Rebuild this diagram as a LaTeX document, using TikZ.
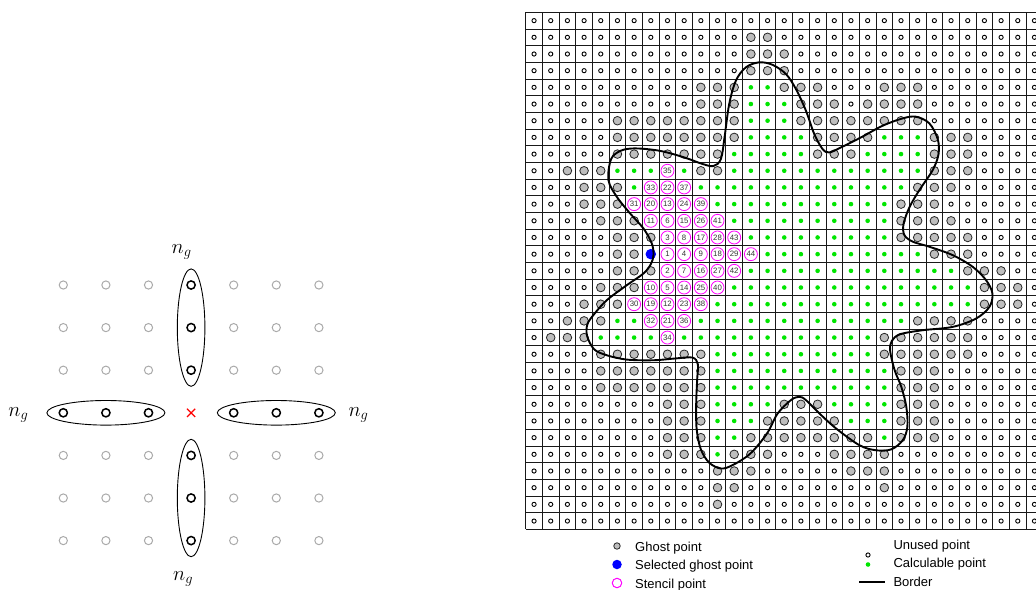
\documentclass[tikz,border=0pt]{standalone}
\usepackage{fontspec}
\setmainfont{Liberation Sans}
\usetikzlibrary{shapes.misc}
\definecolor{calcgreen}{RGB}{0,230,0}
\definecolor{ghostgray}{RGB}{190,190,190}
\definecolor{lgraycol}{RGB}{170,170,170}
\definecolor{stencilmag}{RGB}{255,0,255}
\definecolor{selblue}{RGB}{0,0,255}
\newcount\colno
\newcommand\drawpt[3]{%
  \if#1u\node[unusedpt] (p-#2-#3) at (#2,#3) {};\fi
  \if#1g\node[ghostpt] (p-#2-#3) at (#2,#3) {};\fi
  \if#1c\node[calcpt] (p-#2-#3) at (#2,#3) {};\fi
  \if#1b\node[selpt] (p-#2-#3) at (#2,#3) {};\fi
}
\tikzset{
  unusedpt/.style={circle, draw=black, line width=0.9pt, inner sep=0pt, minimum size=4.2pt},
  ghostpt/.style={circle, draw=black!85, fill=ghostgray, line width=0.8pt, inner sep=0pt, minimum size=8.6pt},
  calcpt/.style={circle, fill=calcgreen, inner sep=0pt, minimum size=4.6pt},
  selpt/.style={circle, fill=selblue, inner sep=0pt, minimum size=10.5pt},
  stencilpt/.style={circle, draw=stencilmag, line width=0.8pt, inner sep=0pt, minimum size=13pt, font=\fontsize{7.8}{8}\selectfont, text=black!80},
  gridline/.style={line width=0.9pt, draw=black!90},
  borderline/.style={line width=1.9pt, draw=black},
  lgraypt/.style={circle, draw=lgraycol, line width=1pt, inner sep=0pt, minimum size=8.2pt},
  lblackpt/.style={circle, draw=black, line width=1.5pt, inner sep=0pt, minimum size=8.2pt},
  grp/.style={line width=0.9pt, draw=black},
  nglabel/.style={anchor=base west, inner sep=0pt, font=\fontsize{20}{24}\selectfont},
  legtext/.style={anchor=base west, inner sep=0pt, font=\fontsize{13}{15}\selectfont},
}
\begin{document}
\begin{tikzpicture}[x=1pt, y=-1pt]
\useasboundingbox (0,0) rectangle (1036,589);
\clip (0,0) rectangle (1036,589);

% ---------------- left diagram ----------------
\foreach \a in {0,1,2,4,5,6} {
  \foreach \b in {0,1,2,4,5,6} {
    \node[lgraypt] (lg-\a-\b) at ({63.3+42.6*\a},{285+42.6*\b}) {};
  }
}
\foreach \b in {0,1,2,4,5,6} {
  \node[lblackpt] (lv-\b) at (191.1,{285+42.6*\b}) {};
}
\foreach \a in {0,1,2,4,5,6} {
  \node[lblackpt] (lh-\a) at ({63.3+42.6*\a},412.8) {};
}
\node[cross out, draw=red, line width=1.2pt, inner sep=0pt, minimum size=7pt] (ctr) at (191.1,412.8) {};
\draw[grp] (191.1,327.6) ellipse [x radius=13.8pt, y radius=58.7pt];
\draw[grp] (191.1,498.0) ellipse [x radius=13.8pt, y radius=58.7pt];
\draw[grp] (105.9,412.8) ellipse [x radius=59pt, y radius=12.3pt];
\draw[grp] (276.3,412.8) ellipse [x radius=59pt, y radius=12.3pt];
\node[nglabel] (ngt) at (171.5,253.3) {$n_g$};
\node[nglabel] (ngb) at (173.0,580.0) {$n_g$};
\node[nglabel] (ngl) at (8.3,416.7) {$n_g$};
\node[nglabel] (ngr) at (348.3,416.7) {$n_g$};

% ---------------- right grid ----------------
\begin{scope}[shift={(534.04,20.64)}, x=16.68pt, y=-16.68pt]
  \foreach \k in {0,...,31} {
    \draw[gridline] (\k-0.5,-0.5) -- (\k-0.5,30.5);
    \draw[gridline] (-0.5,\k-0.5) -- (31.5,\k-0.5);
  }
  \foreach \rowspec [count=\rr from 0] in {
    {u/31},
    {u/13,g/2,u/16},
    {u/13,g/3,u/15},
    {u/13,g/3,u/15},
    {u/10,g/3,c/2,g/3,u/3,g/3,u/7},
    {u/10,g/3,c/3,g/3,u/1,g/4,u/7},
    {u/5,g/8,c/3,g/8,u/7},
    {u/5,g/8,c/4,g/4,c/3,g/3,u/4},
    {u/5,g/7,c/5,g/3,c/4,g/3,u/4},
    {u/2,g/3,c/3,s/1,c/1,g/2,c/12,g/3,u/4},
    {u/3,g/3,c/1,s/3,c/13,g/3,u/5},
    {u/3,g/3,s/5,c/11,g/3,u/6},
    {u/4,g/3,s/5,c/10,g/4,u/5},
    {u/5,g/3,s/5,c/9,g/5,u/4},
    {u/5,g/2,b/1,s/6,c/10,g/3,u/4},
    {u/5,g/3,s/5,c/13,g/3,u/2},
    {u/4,g/3,s/5,c/15,g/3,u/1},
    {u/3,g/3,s/5,c/16,g/3,u/1},
    {u/2,g/3,c/2,s/3,c/13,g/4,u/4},
    {u/1,g/3,c/4,s/1,c/12,g/6,u/4},
    {u/4,g/7,c/10,g/6,u/4},
    {u/4,g/7,c/11,g/3,u/6},
    {u/4,g/7,c/11,g/3,u/6},
    {u/8,g/3,c/4,g/3,c/4,g/3,u/6},
    {u/8,g/3,c/3,g/5,c/3,g/3,u/6},
    {u/8,g/3,c/2,g/8,c/1,g/3,u/6},
    {u/8,g/3,c/1,g/3,u/3,g/4,u/9},
    {u/11,g/3,u/5,g/3,u/9},
    {u/11,g/2,u/8,g/1,u/9},
    {u/11,g/1,u/19},
    {u/31}} {
    \global\colno=0
    \foreach \t/\nn in \rowspec {
      \foreach \k in {1,...,\nn} {
        \edef\cc{\the\colno}%
        \drawpt{\t}{\cc}{\rr}%
        \global\advance\colno by 1
      }
    }
  }
  \foreach \c/\r/\n in {8/9/35,
    7/10/33, 8/10/22, 9/10/37,
    6/11/31, 7/11/20, 8/11/13, 9/11/24, 10/11/39,
    7/12/11, 8/12/6, 9/12/15, 10/12/26, 11/12/41,
    8/13/3, 9/13/8, 10/13/17, 11/13/28, 12/13/43,
    8/14/1, 9/14/4, 10/14/9, 11/14/18, 12/14/29, 13/14/44,
    8/15/2, 9/15/7, 10/15/16, 11/15/27, 12/15/42,
    7/16/10, 8/16/5, 9/16/14, 10/16/25, 11/16/40,
    6/17/30, 7/17/19, 8/17/12, 9/17/23, 10/17/38,
    7/18/32, 8/18/21, 9/18/36,
    8/19/34} {
    \node[stencilpt] (s-\n) at (\c,\r) {\n};
  }
  \draw[borderline] plot[smooth cycle, tension=0.55] coordinates {
    (4.46,9.56) (4.62,8.3) (5.2,7.8) (6.0,7.66) (7.2,7.75) (8.2,7.96) (9.3,8.3)
    (10.0,8.56) (10.74,8.72) (11.2,8.3) (11.42,7.0) (11.7,5.0) (12.1,3.6) (12.7,2.8)
    (13.5,2.5) (14.3,2.65) (15.1,3.2) (15.7,4.1) (16.3,5.4) (16.8,6.8) (17.3,7.7)
    (17.7,7.9) (18.4,7.6) (19.6,7.0) (20.9,6.3) (22.1,5.86) (22.9,5.76) (23.7,6.16)
    (24.2,7.1) (24.25,8.0) (23.9,8.96) (23.1,10.16) (22.5,11.2) (22.15,12.2) (22.2,12.85)
    (22.7,13.25) (23.72,13.56) (25.1,14.06) (26.3,14.76) (27.1,15.56) (27.48,16.36)
    (27.3,17.16) (26.5,17.86) (25.1,18.36) (23.3,18.56) (21.95,18.8) (21.45,19.2)
    (21.35,19.8) (21.62,20.96) (22.02,21.96) (22.32,23.16) (22.38,24.36) (22.1,25.16)
    (21.42,25.7) (20.52,25.76) (19.52,25.46) (18.12,24.46) (17.12,23.56) (16.3,22.75)
    (15.9,22.55) (15.4,22.75) (14.6,23.56) (13.96,24.76) (12.96,25.96) (11.9,26.65)
    (11.2,26.85) (10.5,26.5) (10.0,25.7) (9.75,24.5) (9.72,23.0) (9.78,21.5) (9.82,20.6)
    (9.5,20.2) (8.5,20.25) (7.16,20.36) (5.56,20.32) (4.36,20.06) (3.6,19.7) (3.18,18.9)
    (3.2,18.2) (3.6,17.6) (4.36,16.76) (5.56,15.86) (6.56,15.16) (7.0,14.6) (7.16,14.06)
    (7.06,13.36) (6.56,12.46) (5.76,11.56) (4.96,10.56)};
\end{scope}

% ---------------- legend ----------------
\node[ghostpt, minimum size=6.5pt] (lgm1) at (617,546) {};
\node[legtext] (lgt1) at (635,551) {Ghost point};
\node[selpt, minimum size=9.5pt] (lgm2) at (617,564.5) {};
\node[legtext] (lgt2) at (635,569.5) {Selected ghost point};
\node[circle, draw=stencilmag, line width=1pt, inner sep=0pt, minimum size=9.5pt] (lgm3) at (617,583) {};
\node[legtext] (lgt3) at (635,588) {Stencil point};
\node[unusedpt] (lgm4) at (868,555) {};
\node[legtext] (lgt4) at (893.3,549.5) {Unused point};
\node[calcpt] (lgm5) at (868,564.5) {};
\node[legtext] (lgt5) at (893.3,567.8) {Calculable point};
\coordinate (bl1) at (859,582.3);
\coordinate (bl2) at (884.5,582.3);
\draw[borderline, line width=1.8pt] (bl1) -- (bl2);
\node[legtext] (lgt6) at (893.3,586) {Border};
\end{tikzpicture}
\end{document}
